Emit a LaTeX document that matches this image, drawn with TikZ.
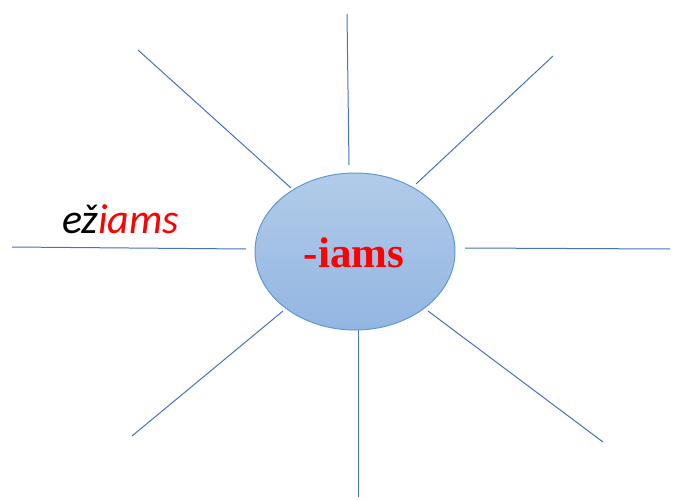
\documentclass[tikz,border=0pt]{standalone}
\usepackage{fontspec}
\newfontfamily\calib{Carlito}
\newfontfamily\timesf{Liberation Serif}
\definecolor{linecol}{RGB}{68,114,196}
\definecolor{elltop}{RGB}{178,203,233}
\definecolor{ellbot}{RGB}{147,182,226}
\definecolor{elldraw}{RGB}{91,155,213}
\definecolor{txtred}{RGB}{255,0,0}
\usetikzlibrary{shapes.geometric}
\begin{document}
\begin{tikzpicture}[x=1pt,y=-1pt,
  ray/.style={draw=linecol,line width=1pt},
  hub/.style={ellipse,minimum width=200pt,minimum height=157pt,inner sep=0pt,
    draw=elldraw,line width=1pt,top color=elltop,bottom color=ellbot}]
\useasboundingbox (0,0) rectangle (674,500);
\node[hub] (c) at (355,251.5) {};
\node[anchor=base,text=txtred,inner sep=0pt,font=\timesf\bfseries\fontsize{43}{43}\selectfont] (lab) at (354,267) {-iams};
\node[anchor=base west,inner sep=0pt,font=\calib\itshape\fontsize{42}{42}\selectfont] (ex) at (62,233) {ež\textcolor{txtred}{iams}};
\coordinate (a1) at (347,14);  \coordinate (b1) at (349,165);
\coordinate (a2) at (138,50);  \coordinate (b2) at (291,188);
\coordinate (a3) at (553,56);  \coordinate (b3) at (416,184);
\coordinate (a4) at (12,247);  \coordinate (b4) at (246,249);
\coordinate (a5) at (465,248); \coordinate (b5) at (670,249);
\coordinate (a6) at (283,311); \coordinate (b6) at (132,436);
\coordinate (a7) at (358,330); \coordinate (b7) at (358,497);
\coordinate (a8) at (428,311); \coordinate (b8) at (603,442);
\foreach \i in {1,...,8} {\draw[ray] (a\i) -- (b\i);}
\end{tikzpicture}
\end{document}
